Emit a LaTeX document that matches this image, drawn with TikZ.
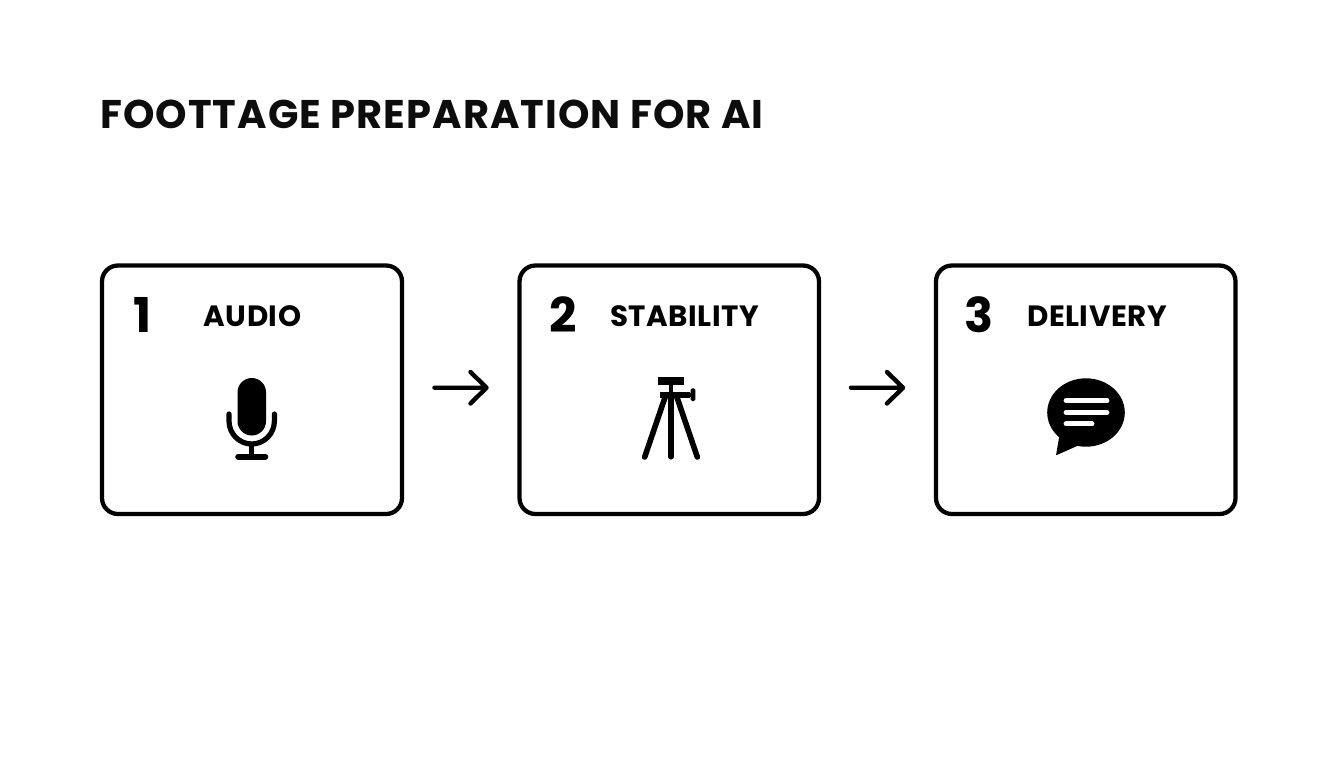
\documentclass[tikz,border=0pt]{standalone}
\usepackage{fontspec}
\setmainfont{Poppins}
\newfontfamily\spaced{Poppins}[LetterSpace=2.6]
\newfontfamily\spacedl{Poppins}[LetterSpace=1.8]
\begin{document}
\begin{tikzpicture}[x=0.75pt,y=-0.75pt,
  stepbox/.style={draw=black,line width=3.2pt,rounded corners=12pt,fill=white},
  flow/.style={draw=black,line width=3.3pt,line cap=round,line join=round},
  titletext/.style={font=\spaced\fontsize{30pt}{31pt}\selectfont\bfseries,anchor=base west,inner sep=0pt,text=black!95},
  numtext/.style={font=\fontsize{36pt}{36pt}\selectfont\bfseries,anchor=base,inner sep=0pt},
  labeltext/.style={font=\spacedl\fontsize{22pt}{23pt}\selectfont\bfseries,anchor=base,inner sep=0pt},
  icon/.style={line cap=round,line join=round,draw=black},
  ]
\useasboundingbox (0,0) rectangle (1344,768);
\fill[white] (0,0) rectangle (1344,768);
\node[titletext] (title) at (100,128.5) {FOOTTAGE PREPARATION FOR AI};
\draw[stepbox] (102,265.5) rectangle (402,514);
\draw[stepbox] (519.5,265.5) rectangle (819,514);
\draw[stepbox] (936,265.5) rectangle (1235.5,514);
\coordinate (a1s) at (434.5,387.7); \coordinate (a1e) at (486.5,387.7);
\coordinate (a2s) at (851,387.7); \coordinate (a2e) at (903,387.7);
\draw[flow] (a1s) -- (a1e) (470.5,372) -- (a1e) -- (470.5,403.5);
\draw[flow] (a2s) -- (a2e) (887,372) -- (a2e) -- (887,403.5);
\node[numtext] (n1) at (142.5,332.5) {1};
\node[numtext] (n2) at (563.5,332.5) {2};
\node[numtext] (n3) at (979,332.5) {3};
\node[labeltext] (l1) at (252.5,326) {AUDIO};
\node[labeltext] (l2) at (684.5,326) {STABILITY};
\node[labeltext] (l3) at (1097,326) {DELIVERY};
% mic
\fill[rounded corners=10.7pt] (237.5,378) rectangle (266,435.5);
\draw[icon,line width=3.9pt] (229,414) -- (229,421) arc[start angle=180,end angle=0,x radius=22.7,y radius=23] -- (274.4,414);
\draw[icon,line width=3.7pt,line cap=butt] (251.7,443) -- (251.7,457);
\draw[icon,line width=4.2pt] (238,456.8) -- (265.5,456.8);
% tripod
\fill (657.7,377.3) rectangle (684.3,385);
\fill (668.7,385) rectangle (673.3,392);
\fill (660,391.7) rectangle (690,397.8);
\fill (689,392.5) rectangle (691,397);
\fill[rounded corners=1.2pt] (690.5,388.3) rectangle (695.4,401);
\draw[icon,line width=4.2pt] (665.5,396) -- (644.7,457);
\draw[icon,line width=3.8pt] (671,396) -- (671,457);
\draw[icon,line width=4.2pt] (676.5,396) -- (697.3,457);
% bubble
\fill (1086,412.5) ellipse[x radius=38.8,y radius=34.2];
\fill (1060,432) -- (1056,455.3) -- (1084,443) -- cycle;
\draw[icon,white,line width=3.6pt] (1066,400.7) -- (1107,400.7);
\draw[icon,white,line width=3.6pt] (1066,412.3) -- (1107,412.3);
\draw[icon,white,line width=3.6pt] (1066,423.8) -- (1092,423.8);
\end{tikzpicture}
\end{document}
